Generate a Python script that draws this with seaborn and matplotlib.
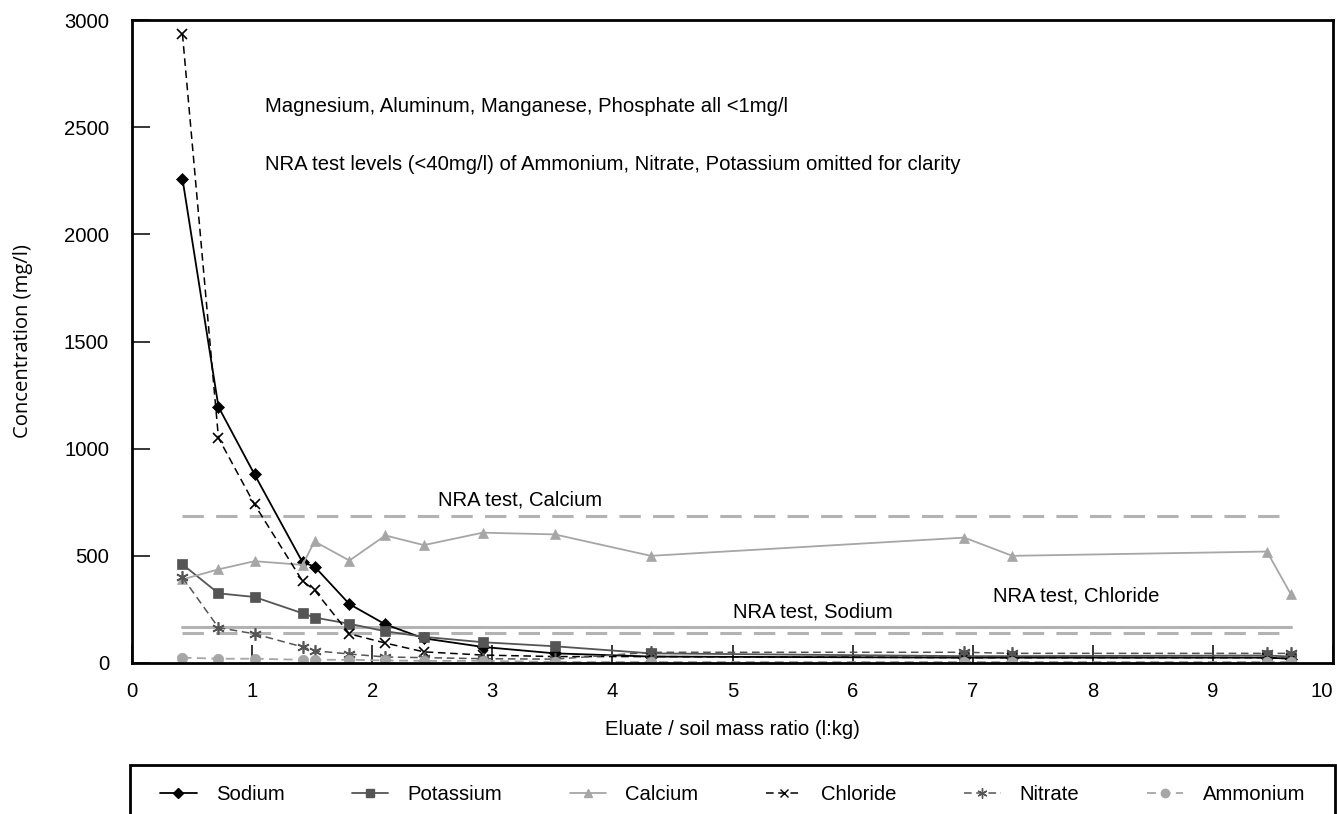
import matplotlib
matplotlib.use("Agg")
import matplotlib.pyplot as plt
import seaborn as sns
import pandas as pd
from matplotlib.lines import Line2D
from matplotlib.patches import Rectangle

ratio = [0.42, 0.72, 1.02, 1.42, 1.52, 1.81, 2.11, 2.43, 2.92, 3.52, 4.32, 6.93, 7.33, 9.45, 9.65]
sodium = [2260, 1195, 880, 470, 450, 275, 180, 115, 75, 45, 30, 25, 25, 25, 20]
potassium = [460, 325, 308, 232, 212, 183, 148, 122, 97, 78, 45, 32, 32, 35, 30]
calcium = [390, 437, 475, 458, 567, 478, 595, 550, 608, 600, 500, 585, 500, 520, 320]
chloride = [2935, 1050, 740, 382, 340, 136, 93, 52, 37, 30, 30, 25, 25, 25, 20]
nitrate = [400, 165, 136, 75, 57, 42, 28, 25, 20, 18, 50, 50, 45, 45, 45]
ammonium = [25, 20, 20, 15, 15, 15, 12, 10, 10, 5, 5, 5, 5, 5, 5]

nra_x = [0.42, 9.65]
nra_calcium = 688
nra_sodium = 167
nra_chloride = 140

sns.set_theme(style="white")
plt.rcParams['font.family'] = ['Liberation Sans', 'DejaVu Sans']
FS = 14.6
plt.rcParams.update({'font.size': FS, 'text.color': 'black', 'axes.labelcolor': 'black',
                     'xtick.color': 'black', 'ytick.color': 'black'})

fig = plt.figure(figsize=(13.37, 8.14), dpi=100)
ax = fig.add_axes([132/1337, 1-663/814, (1333-132)/1337, (663-20)/814])

dark = "#555555"
light = "#a6a6a6"
series = [
    ("Sodium", sodium, "black", "-", "D", 6.5, 1.3),
    ("Potassium", potassium, dark, "-", "s", 7.5, 1.3),
    ("Calcium", calcium, light, "-", "^", 7.5, 1.3),
    ("Chloride", chloride, "black", (0, (5, 3)), "x", 7.5, 1.1),
    ("Nitrate", nitrate, dark, (0, (5, 3)), (6, 2, 0), 9, 1.1),
    ("Ammonium", ammonium, light, (0, (5, 3)), "o", 7.5, 1.3),
]

# reference lines
df_ref = pd.DataFrame({"x": nra_x, "ca": [nra_calcium]*2, "na": [nra_sodium]*2, "cl": [nra_chloride]*2})
sns.lineplot(data=df_ref, x="x", y="ca", ax=ax, color="#b3b3b3", linewidth=2.2, linestyle=(0, (7, 4)))
sns.lineplot(data=df_ref, x="x", y="na", ax=ax, color="#b3b3b3", linewidth=2.2)
sns.lineplot(data=df_ref, x="x", y="cl", ax=ax, color="#b3b3b3", linewidth=2.2, linestyle=(0, (7, 4)))

handles = []
for name, vals, col, ls, mk, ms, lw in series:
    df = pd.DataFrame({"x": ratio, "y": vals})
    sns.lineplot(data=df, x="x", y="y", ax=ax, color=col, linestyle=ls, linewidth=lw,
                 marker=mk, markersize=ms, markeredgecolor=col, markerfacecolor=col,
                 markeredgewidth=1.2 if mk in ("x", (6, 2, 0)) else 0.5)
    handles.append(Line2D([0], [0], color=col, linestyle=ls, linewidth=lw, marker=mk,
                          markersize=ms*0.8, markerfacecolor=col, markeredgecolor=col))

ax.set_xlim(0, 10)
ax.set_ylim(0, 3000)
ax.set_xticks(range(0, 11))
ax.set_yticks(range(0, 3001, 500))
ax.tick_params(direction="in", length=13, width=1.1, colors="black", labelsize=FS, left=True, bottom=True)
ax.tick_params(axis="x", pad=13.5)
ax.tick_params(axis="y", pad=16.5)
labs = ax.get_xticklabels()
labs[-1].set_horizontalalignment("right")
for s in ax.spines.values():
    s.set_color("black")
    s.set_linewidth(2)
ax.set_xlabel("Eluate / soil mass ratio (l:kg)", fontsize=FS, labelpad=14)
ax.set_ylabel("Concentration (mg/l)", fontsize=FS, labelpad=22, family=["Open Sans", "DejaVu Sans"])

ax.text(1.11, 2598, "Magnesium, Aluminum, Manganese, Phosphate all <1mg/l", fontsize=FS, va="center", ha="left")
ax.text(1.11, 2327, "NRA test levels (<40mg/l) of Ammonium, Nitrate, Potassium omitted for clarity", fontsize=FS, va="center", ha="left")
ax.text(3.23, 760, "NRA test, Calcium", fontsize=FS, va="center", ha="center")
ax.text(5.67, 238, "NRA test, Sodium", fontsize=FS, va="center", ha="center")
ax.text(7.86, 313, "NRA test, Chloride", fontsize=FS, va="center", ha="center")

# legend frame
fig.patches.append(Rectangle((130/1337, -0.05), (1335-130)/1337, 0.05 + 1-765/814,
                             transform=fig.transFigure, fill=False, edgecolor="black",
                             linewidth=2, zorder=5))
leg = fig.legend(handles, [s[0] for s in series], ncol=6, loc="center left",
                 bbox_to_anchor=(160/1337, 1-795/814, (1305-160)/1337, 0.0), mode="expand",
                 frameon=False, fontsize=FS, handlelength=1.8, handletextpad=0.95,
                 borderpad=0.0, borderaxespad=0.0, columnspacing=1.5)

fig.savefig("out.png", dpi=100)
